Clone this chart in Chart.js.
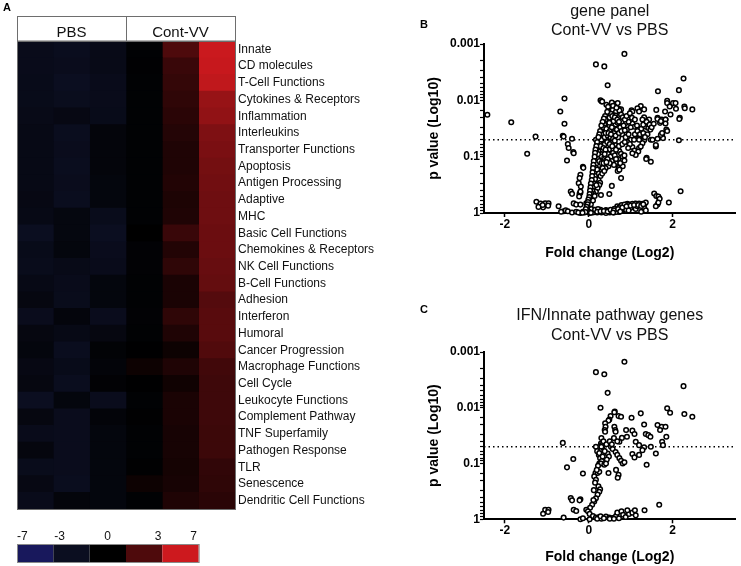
<!DOCTYPE html>
<html>
<head>
<meta charset="utf-8">
<title>Cont-VV vs PBS</title>
<script src="https://cdn.jsdelivr.net/npm/chart.js@4.4.1/dist/chart.umd.min.js"></script>
<style>
  body { margin: 0; background: #fff; }
  #figure { position: relative; width: 741px; height: 566px; overflow: hidden; background: #fff; }
  #figure canvas { position: absolute; }
  .panel-letter { position: absolute; font: bold 11px 'Liberation Sans', Arial, sans-serif; color: #000; line-height: 11px; }
</style>
</head>
<body>
<div id="figure">
  <canvas id="heatmap" width="375" height="566" style="left:0;top:0"></canvas>
  <canvas id="volcano-panel" width="371" height="266" style="left:370px;top:0"></canvas>
  <canvas id="volcano-innate" width="371" height="276" style="left:370px;top:290px"></canvas>
  <div class="panel-letter" style="left:3px;top:2px">A</div>
  <div class="panel-letter" style="left:420px;top:19px">B</div>
  <div class="panel-letter" style="left:420px;top:304px">C</div>
</div>
<script>
var fontFamily = "'Liberation Sans', Arial, sans-serif";
Chart.defaults.font.family = fontFamily;
Chart.defaults.color = '#111';

// ---- panel A: pathway heatmap ----
var rowLabels = ['Innate', 'CD molecules', 'T-Cell Functions', 'Cytokines & Receptors', 'Inflammation',
  'Interleukins', 'Transporter Functions', 'Apoptosis', 'Antigen Processing', 'Adaptive', 'MHC',
  'Basic Cell Functions', 'Chemokines & Receptors', 'NK Cell Functions', 'B-Cell Functions', 'Adhesion',
  'Interferon', 'Humoral', 'Cancer Progression', 'Macrophage Functions', 'Cell Cycle', 'Leukocyte Functions',
  'Complement Pathway', 'TNF Superfamily', 'Pathogen Response', 'TLR', 'Senescence', 'Dendritic Cell Functions'];
var groupLabels = ['PBS', 'Cont-VV'];

// pathway scores, one array per sample column (3 x PBS, 3 x Cont-VV)
var pbs1 = [-2.4, -2.4, -2.3, -2.3, -2.2, -2.0, -2.0, -2.0, -2.0, -1.8, -2.0, -3.0, -2.3, -2.5,
  -2.0, -1.5, -2.6, -1.5, -1.2, -1.8, -1.5, -3.0, -1.5, -2.4, -1.3, -2.5, -1.8, -2.4];
var pbs2 = [-2.8, -2.6, -3.0, -2.7, -1.8, -2.8, -2.6, -2.8, -2.6, -2.8, -1.4, -1.4, -1.2, -2.2,
  -2.4, -2.5, -1.1, -2.0, -2.8, -2.3, -2.8, -1.2, -2.6, -2.6, -2.6, -2.6, -2.8, -1.0];
var pbs3 = [-2.2, -2.2, -2.4, -2.4, -2.3, -1.0, -1.0, -1.0, -1.2, -1.2, -2.5, -3.0, -2.6, -2.4,
  -1.2, -1.2, -2.6, -1.5, -0.6, -0.8, -0.5, -2.6, -0.8, -1.2, -1.2, -1.2, -1.2, -1.2];
var vv1 = [-0.4, -0.3, -0.4, -0.4, -0.4, -0.4, -0.4, -0.4, -0.4, -0.4, -0.4, 0.0, -0.5, -0.5,
  -0.4, -0.4, -0.5, -0.4, -0.1, 0.5, -0.1, -0.4, -0.2, -0.4, -0.4, -0.2, 0.5, -0.4];
var vv2 = [3.0, 2.2, 2.0, 1.8, 1.6, 1.4, 1.2, 1.2, 1.3, 1.1, 1.2, 2.2, 1.3, 1.8,
  1.0, 1.0, 1.8, 1.2, 0.5, 1.2, 0.6, 1.0, 1.0, 0.9, 0.9, 0.8, 0.9, 1.2];
var vv3 = [6.9, 6.8, 6.6, 5.3, 5.1, 4.5, 4.4, 4.2, 4.1, 4.0, 4.0, 3.9, 3.9, 3.8,
  3.7, 3.2, 3.3, 3.3, 3.1, 2.5, 2.4, 2.4, 2.4, 2.3, 2.3, 1.9, 1.8, 1.6];
var heatColumns = [pbs1, pbs2, pbs3, vv1, vv2, vv3];

// colour key
var keyValues = [-7, -3, 0, 3, 7];
var keyLabels = ['-7', '-3', '0', '3', '7'];
var keyColors = [[24, 24, 92], [11, 14, 32], [0, 0, 0], [78, 10, 12], [205, 25, 30]];
var keyLabelPos = [0.15, 1.17, 2.49, 3.88, 4.86]; // label x, in key-block units

function rgb(c) {
  return 'rgb(' + Math.round(c[0]) + ',' + Math.round(c[1]) + ',' + Math.round(c[2]) + ')';
}

function heatColor(v) {
  if (v <= keyValues[0]) return rgb(keyColors[0]);
  for (var i = 1; i < keyValues.length; i++) {
    if (v <= keyValues[i]) {
      var t = (v - keyValues[i - 1]) / (keyValues[i] - keyValues[i - 1]);
      var a = keyColors[i - 1], b = keyColors[i];
      return rgb([a[0] + (b[0] - a[0]) * t, a[1] + (b[1] - a[1]) * t, a[2] + (b[2] - a[2]) * t]);
    }
  }
  return rgb(keyColors[keyColors.length - 1]);
}

var heatDatasets = [];
for (var c = 0; c < heatColumns.length; c++) {
  heatDatasets.push({
    label: 'sample ' + (c + 1),
    data: rowLabels.map(function () { return 1; }), // every cell is one column wide
    backgroundColor: heatColumns[c].map(heatColor),
    borderWidth: 0,
    barPercentage: 1,
    categoryPercentage: 1
  });
}

var heatmapFrame = {
  id: 'heatmapFrame',
  afterDraw: function (chart) {
    var ctx = chart.ctx;
    var area = chart.chartArea;
    var xs = chart.scales.x;
    var headerTop = area.top - 25;
    var mid = xs.getPixelForValue(3);
    ctx.save();
    ctx.strokeStyle = '#6e6e6e';
    ctx.lineWidth = 1;
    ctx.strokeRect(area.left + 0.5, headerTop + 0.5, area.right - area.left, 25);
    ctx.beginPath();
    ctx.moveTo(Math.round(mid) + 0.5, headerTop);
    ctx.lineTo(Math.round(mid) + 0.5, area.top);
    ctx.stroke();
    ctx.strokeRect(area.left + 0.5, area.top, area.right - area.left, area.bottom - area.top + 0.5);

    ctx.fillStyle = '#111';
    ctx.font = '15px ' + fontFamily;
    ctx.textAlign = 'center';
    ctx.textBaseline = 'alphabetic';
    ctx.fillText(groupLabels[0], (xs.getPixelForValue(0) + mid) / 2, area.top - 4.5);
    ctx.fillText(groupLabels[1], (mid + xs.getPixelForValue(6)) / 2, area.top - 4.5);

    // colour key under the heatmap
    var keyTop = area.bottom + 35;
    for (var i = 0; i < keyColors.length; i++) {
      var x0 = xs.getPixelForValue(i);
      ctx.fillStyle = rgb(keyColors[i]);
      ctx.fillRect(x0, keyTop, xs.getPixelForValue(i + 1) - x0, 18);
    }
    ctx.strokeStyle = '#8a8a8a';
    ctx.strokeRect(area.left + 0.5, keyTop + 0.5, xs.getPixelForValue(5) - area.left, 18);
    ctx.fillStyle = '#111';
    ctx.font = '12px ' + fontFamily;
    for (var k = 0; k < keyLabels.length; k++) {
      ctx.fillText(keyLabels[k], xs.getPixelForValue(keyLabelPos[k]), keyTop - 4);
    }
    ctx.restore();
  }
};

new Chart(document.getElementById('heatmap').getContext('2d'), {
  type: 'bar',
  data: { labels: rowLabels, datasets: heatDatasets },
  options: {
    indexAxis: 'y',
    responsive: false,
    animation: false,
    events: [],
    layout: { padding: { left: 17, top: 41, right: 0, bottom: 57 } },
    plugins: { legend: { display: false }, tooltip: { enabled: false } },
    scales: {
      x: { type: 'linear', stacked: true, min: 0, max: 6, display: false },
      y: {
        stacked: true,
        position: 'right',
        grid: { display: false, drawTicks: false },
        border: { display: false },
        ticks: { autoSkip: false, padding: 3, color: '#111', font: { size: 12 } },
        afterFit: function (scale) { scale.width = 140; }
      }
    }
  },
  plugins: [heatmapFrame]
});

// ---- panels B and C: volcano plots ----
var xRange = [-2.5, 3.5];
var xTicks = [-2, 0, 2];
var yRange = [0.001, 1];
var yTickValues = [0.001, 0.01, 0.1, 1];
var yTickLabels = ['0.001', '0.01', '0.1', '1'];
var pCutoff = 0.05;

// [fold change (log2), p value] for the IFN/innate genes
var innateGenes = [
  [0.85, 0.0015], [0.17, 0.0023], [0.37, 0.0025], [0.45, 0.0054], [2.26, 0.0041],
  [0.28, 0.010], [0.62, 0.0117], [0.61, 0.012], [0.52, 0.0141], [0.49, 0.0162], [0.47, 0.017], [0.71, 0.0141],
  [0.77, 0.0145], [1.24, 0.0126], [1.02, 0.0151], [1.87, 0.0102], [1.94, 0.0123], [2.28, 0.0129], [2.47, 0.0145],
  [1.32, 0.020], [1.64, 0.0204], [1.74, 0.0219], [1.83, 0.0219], [1.70, 0.0251], [1.85, 0.0331], [1.75, 0.0407],
  [1.77, 0.0468], [1.60, 0.066], [1.36, 0.0295], [1.42, 0.031], [1.47, 0.0331], [1.38, 0.105], [1.48, 0.05],
  [-0.62, 0.0427], [-0.37, 0.083], [-0.52, 0.117], [-0.14, 0.151], [-0.43, 0.417], [-0.40, 0.457],
  [-1.04, 0.676], [-1.09, 0.794], [-0.96, 0.676], [-0.97, 0.74], [-0.60, 0.933], [1.68, 0.55], [1.33, 0.69],
  [-0.20, 1.0],
  [0.39, 0.019], [0.40, 0.0219], [0.38, 0.025], [0.39, 0.0269], [0.61, 0.0219], [0.63, 0.0251], [0.64, 0.0269],
  [0.89, 0.0251], [0.91, 0.0331], [0.79, 0.0347], [0.73, 0.0407], [1.04, 0.0257], [1.09, 0.0295], [1.12, 0.0407],
  [1.20, 0.0468], [1.32, 0.0513], [1.28, 0.0575], [1.04, 0.0676], [1.09, 0.0776], [1.20, 0.07],
  [0.53, 0.05], [0.57, 0.055], [0.64, 0.062], [0.68, 0.07], [0.73, 0.08], [0.77, 0.089],
  [0.29, 0.0437], [0.31, 0.0468], [0.33, 0.055], [0.30, 0.05], [0.27, 0.06], [0.17, 0.05], [0.20, 0.06],
  [0.24, 0.07], [0.27, 0.08], [0.31, 0.09], [0.45, 0.066], [0.48, 0.075], [0.43, 0.085],
  [0.25, 0.1], [0.29, 0.1], [0.37, 0.105], [0.41, 0.1], [0.16, 0.148], [0.21, 0.148], [0.25, 0.14],
  [0.13, 0.17], [0.17, 0.195], [0.47, 0.148], [0.65, 0.13], [0.71, 0.16], [0.69, 0.18], [0.81, 0.1], [0.85, 0.095],
  [0.23, 0.257], [0.27, 0.29], [0.25, 0.32], [0.21, 0.36], [0.17, 0.42], [0.13, 0.48], [0.08, 0.55],
  [0.11, 0.45], [0.03, 0.62], [-0.2, 0.437], [-0.22, 0.457], [-0.36, 0.676], [-0.30, 0.71],
  [-0.06, 0.676], [-0.02, 0.72], [0.02, 0.8], [0.1, 0.87], [0.17, 0.93], [0.25, 0.91], [0.33, 0.95],
  [0.41, 0.89], [0.49, 0.93], [0.57, 0.95], [0.65, 0.87], [0.68, 0.76], [0.78, 0.72], [0.82, 0.83],
  [0.88, 0.91], [0.96, 0.8], [1.04, 0.76], [1.1, 0.69], [1.12, 0.85], [0.92, 0.69],
  [-0.14, 0.955], [0.02, 1.0], [0.3, 0.98], [0.5, 0.98], [0.2, 0.98],
  [0.3, 0.035], [0.35, 0.04], [0.42, 0.045], [0.5, 0.04], [0.55, 0.045], [0.6, 0.035], [0.68, 0.04],
  [0.25, 0.065], [0.33, 0.075], [0.38, 0.06], [0.22, 0.11], [0.19, 0.13], [0.15, 0.22], [0.12, 0.3],
  [0.28, 0.88], [0.36, 0.96], [0.6, 0.98], [0.72, 0.96]
];

// the rest of the gene panel (panel B shows these plus the innate genes)
var otherGenes = [
  [-2.42, 0.018], [-1.85, 0.0245], [-1.27, 0.044], [-1.47, 0.089], [-0.58, 0.0093], [-0.68, 0.0158],
  [-0.58, 0.026], [-0.60, 0.044], [-0.50, 0.06], [-0.48, 0.07], [-0.40, 0.048], [-0.36, 0.087], [-0.13, 0.158],
  [-0.20, 0.21], [-0.22, 0.24], [-0.24, 0.295], [-0.19, 0.34], [-0.20, 0.417], [-0.23, 0.51], [-0.20, 0.71],
  [-1.25, 0.63], [-1.15, 0.68], [-1.2, 0.78], [-1.1, 0.72], [-0.72, 0.76], [-0.66, 0.95], [-0.55, 0.9],
  [-0.5, 0.93], [-0.4, 0.98], [-0.3, 0.95], [-0.25, 0.98],
  [0.31, 0.0105], [0.32, 0.0105], [2.15, 0.0066], [1.65, 0.0069], [2.08, 0.0141], [2.01, 0.0112], [2.17, 0.0204],
  [2.15, 0.051], [2.19, 0.41], [1.91, 0.65], [1.56, 0.45], [1.61, 0.5], [1.66, 0.51], [1.69, 0.56], [1.64, 0.71],
  [1.60, 0.76], [1.66, 0.65], [1.37, 0.11], [1.48, 0.123],
  [1.04, 0.0158], [1.03, 0.0204], [1.16, 0.0138], [1.20, 0.0158], [1.32, 0.0145], [1.28, 0.0219], [1.44, 0.0219],
  [1.61, 0.0148], [1.64, 0.0214], [1.72, 0.0234], [1.82, 0.0158], [1.87, 0.0112], [1.93, 0.0129], [2.07, 0.0112],
  [1.95, 0.0178], [1.83, 0.0219], [2.29, 0.0138], [2.16, 0.0214], [1.83, 0.0257],
  [1.60, 0.062], [1.64, 0.048], [1.72, 0.041], [1.75, 0.038], [1.52, 0.05], [1.87, 0.035],
  [1.20, 0.05], [1.24, 0.066], [1.18, 0.081], [1.12, 0.093], [1.04, 0.087],
  [0.85, 0.117], [0.81, 0.148], [0.73, 0.17], [0.77, 0.24], [0.55, 0.33], [0.49, 0.46], [0.29, 0.48],
  [0.69, 0.0112], [0.61, 0.0129], [0.57, 0.0148], [0.53, 0.0174], [0.49, 0.0204], [0.65, 0.0158], [0.73, 0.0151],
  [0.77, 0.0178], [0.64, 0.0186], [0.59, 0.0234], [0.40, 0.0219], [0.37, 0.0269], [0.49, 0.025], [0.69, 0.025],
  [0.77, 0.0288],
  [0.35, 0.03], [0.42, 0.032], [0.5, 0.035], [0.55, 0.03], [0.6, 0.038], [0.67, 0.033], [0.75, 0.03], [0.83, 0.028],
  [0.95, 0.024], [1.0, 0.03], [1.1, 0.022], [1.15, 0.028], [1.25, 0.032], [1.3, 0.027], [1.38, 0.024],
  [1.45, 0.027], [1.5, 0.03], [1.55, 0.026],
  [0.33, 0.04], [0.38, 0.045], [0.45, 0.042], [0.52, 0.045], [0.58, 0.048], [0.62, 0.052], [0.7, 0.045],
  [0.8, 0.04], [0.88, 0.045], [0.95, 0.04], [1.0, 0.05], [0.92, 0.055],
  [0.28, 0.065], [0.35, 0.07], [0.4, 0.075], [0.46, 0.09], [0.52, 0.1], [0.58, 0.085], [0.62, 0.095],
  [0.7, 0.11], [0.55, 0.12], [0.6, 0.14],
  [0.22, 0.09], [0.25, 0.12], [0.3, 0.13], [0.35, 0.13], [0.4, 0.16], [0.2, 0.17], [0.24, 0.2], [0.28, 0.22],
  [0.32, 0.2],
  [0.15, 0.25], [0.12, 0.3], [0.1, 0.35], [0.08, 0.4], [0.06, 0.45], [0.05, 0.5], [0.04, 0.55], [0.02, 0.6],
  [0.0, 0.68], [0.01, 0.75], [-0.02, 0.82], [0.05, 0.7], [0.1, 0.6], [0.14, 0.5], [0.18, 0.32], [0.06, 0.85],
  [0.33, 0.96], [0.41, 0.91], [0.49, 0.91], [0.61, 0.84], [0.73, 0.79], [0.85, 0.71], [0.96, 0.71], [1.04, 0.69],
  [1.12, 0.68], [1.2, 0.68], [1.28, 0.69], [1.36, 0.65], [1.32, 0.81], [1.16, 0.76], [1.0, 0.81], [0.89, 0.88],
  [0.77, 0.88], [0.65, 0.96], [0.41, 1.0], [0.55, 0.93], [0.95, 0.9], [1.25, 0.95], [1.36, 0.9],
  [-0.1, 0.98], [0.0, 0.95], [0.1, 0.98], [-0.05, 0.9], [0.15, 0.88], [0.22, 0.85],
  [0.42, 0.012], [0.46, 0.013], [0.55, 0.011], [0.58, 0.0125], [0.66, 0.0135], [0.44, 0.016], [0.56, 0.019],
  [0.62, 0.02], [0.68, 0.022], [0.72, 0.024], [0.81, 0.02], [0.86, 0.022], [0.9, 0.019], [0.98, 0.017],
  [0.36, 0.021], [0.33, 0.024], [0.3, 0.028], [0.27, 0.035], [0.25, 0.04], [0.23, 0.045], [0.2, 0.055],
  [0.18, 0.065], [0.16, 0.075], [0.15, 0.085], [0.14, 0.1], [0.12, 0.12], [0.11, 0.14], [0.1, 0.16],
  [0.09, 0.19], [0.08, 0.22], [0.07, 0.26], [0.05, 0.3], [0.04, 0.35], [0.03, 0.4], [0.02, 0.46],
  [0.01, 0.52], [-0.01, 0.58], [-0.02, 0.64], [-0.03, 0.7], [-0.05, 0.78], [-0.07, 0.85],
  [0.4, 0.038], [0.47, 0.038], [0.53, 0.04], [0.64, 0.042], [0.72, 0.038], [0.78, 0.035], [0.86, 0.034],
  [0.44, 0.055], [0.5, 0.06], [0.56, 0.065], [0.65, 0.075], [0.72, 0.065], [0.8, 0.06], [0.86, 0.055],
  [0.38, 0.09], [0.45, 0.11], [0.5, 0.13], [0.42, 0.125], [0.33, 0.16], [0.37, 0.18], [0.65, 0.11], [0.75, 0.13],
  [0.2, 0.95], [0.28, 0.93], [0.36, 0.92], [0.45, 0.94], [0.52, 0.88], [0.6, 0.9], [0.7, 0.85], [0.8, 0.8],
  [0.9, 0.76], [1.0, 0.74], [1.08, 0.72], [1.18, 0.72], [1.25, 0.75], [1.3, 0.7], [0.58, 0.98], [0.75, 0.94],
  [0.05, 0.99], [-0.08, 0.96], [-0.15, 0.99],
  [1.1, 0.04], [1.16, 0.035], [1.22, 0.04], [1.3, 0.038], [1.4, 0.04], [1.34, 0.045], [1.08, 0.05],
  [0.98, 0.06], [0.94, 0.07]
];
var panelGenes = innateGenes.concat(otherGenes);

var volcanoTitle = {
  id: 'volcanoTitle',
  afterDraw: function (chart) {
    var opts = chart.options.plugins.volcanoTitle;
    var area = chart.chartArea;
    var ctx = chart.ctx;
    ctx.save();
    ctx.font = '16px ' + fontFamily;
    ctx.fillStyle = '#111';
    ctx.textAlign = 'center';
    ctx.textBaseline = 'alphabetic';
    for (var i = 0; i < opts.lines.length; i++) {
      ctx.fillText(opts.lines[i], (area.left + area.right) / 2, opts.baselines[i]);
    }
    ctx.restore();
  }
};

function axisTitle(text, padTop) {
  return { display: true, text: text, color: '#000', font: { size: 14, weight: 'bold' }, padding: { top: padTop, bottom: 0 } };
}

function makeVolcano(canvasId, titleLines, baselines, points, pad, xHeight, xTitlePad) {
  return new Chart(document.getElementById(canvasId).getContext('2d'), {
    type: 'scatter',
    data: {
      datasets: [{
        data: points.map(function (p) { return { x: p[0], y: p[1] }; }),
        pointRadius: 2.3,
        pointBorderWidth: 1.5,
        pointBorderColor: '#000',
        pointBackgroundColor: '#fff',
        clip: false,
        order: 1
      }, {
        type: 'line',
        data: [{ x: xRange[0], y: pCutoff }, { x: xRange[1], y: pCutoff }],
        borderColor: '#000',
        borderWidth: 1.5,
        borderDash: [1.5, 3],
        pointRadius: 0,
        order: 2
      }]
    },
    options: {
      responsive: false,
      animation: false,
      events: [],
      layout: { padding: pad },
      plugins: {
        legend: { display: false },
        tooltip: { enabled: false },
        volcanoTitle: { lines: titleLines, baselines: baselines }
      },
      scales: {
        x: {
          type: 'linear',
          min: xRange[0],
          max: xRange[1],
          afterBuildTicks: function (scale) {
            scale.ticks = xTicks.map(function (v) { return { value: v }; });
          },
          afterFit: function (scale) { scale.height = xHeight; },
          grid: { drawOnChartArea: false, tickLength: 4, tickColor: '#000', tickWidth: 1.5 },
          border: { color: '#000', width: 2 },
          ticks: { padding: 0, color: '#000', font: { size: 12, weight: 'bold' } },
          title: axisTitle('Fold change (Log2)', xTitlePad)
        },
        y: {
          type: 'logarithmic',
          min: yRange[0],
          max: yRange[1],
          reverse: true,
          afterFit: function (scale) { scale.width = 62; },
          grid: { drawOnChartArea: false, tickLength: 4, tickColor: '#000', tickWidth: 1.2 },
          border: { color: '#000', width: 2 },
          ticks: {
            autoSkip: false,
            padding: 0,
            color: '#000',
            font: { size: 12, weight: 'bold' },
            callback: function (value) {
              for (var i = 0; i < yTickValues.length; i++) {
                if (Math.abs(Math.log10(yTickValues[i]) - Math.log10(value)) < 1e-6) return yTickLabels[i];
              }
              return '';
            }
          },
          title: axisTitle('p value (Log10)', 4)
        }
      }
    },
    plugins: [volcanoTitle]
  });
}

makeVolcano('volcano-panel', ['gene panel', 'Cont-VV vs PBS'], [15.7, 35], panelGenes,
  { left: 52, top: 44, right: 3, bottom: 4 }, 49, 4);
makeVolcano('volcano-innate', ['IFN/Innate pathway genes', 'Cont-VV vs PBS'], [30, 50], innateGenes,
  { left: 52, top: 62, right: 3, bottom: 0 }, 46.7, 1);
</script>
</body>
</html>
